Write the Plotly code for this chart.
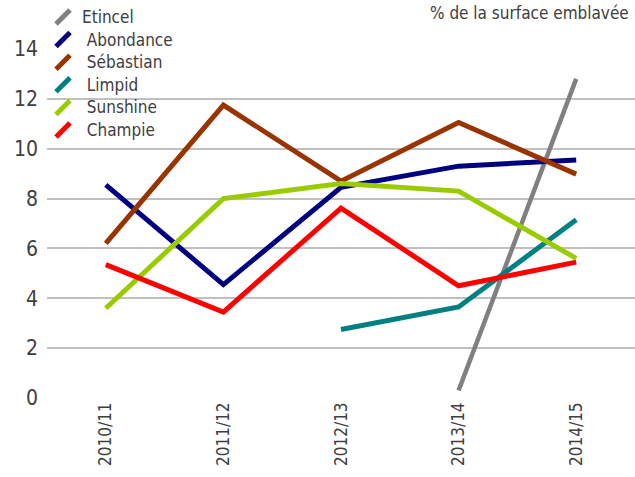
import plotly.graph_objects as go

categories = ["2010/11", "2011/12", "2012/13", "2013/14", "2014/15"]
etincel = [None, None, None, 0.3, 12.8]
abondance = [8.55, 4.55, 8.45, 9.3, 9.55]
sebastian = [6.2, 11.75, 8.7, 11.05, 8.98]
limpid = [None, None, 2.75, 3.65, 7.15]
sunshine = [3.6, 8.0, 8.6, 8.3, 5.6]
champie = [5.35, 3.45, 7.62, 4.5, 5.45]

names = ["Etincel", " Abondance", " Sébastian", " Limpid", " Sunshine", " Champie"]
colors = ["#808080", "#000080", "#993300", "#008080", "#99CC00", "#FF0000"]
series = [etincel, abondance, sebastian, limpid, sunshine, champie]
widths = [4.5, 5, 5, 5, 5, 5]
y_ticks = [0, 2, 4, 6, 8, 10, 12, 14]

FONT = "Liberation Sans Narrow, DejaVu Sans Condensed, sans-serif"
TXT = "#404040"

L, T, PW, PH = 47, 49, 588, 349

fig = go.Figure()
for nm, col, s, w in zip(names, colors, series, widths):
    fig.add_trace(go.Scatter(x=categories, y=s, mode="lines", name=nm.strip(),
                             line=dict(color=col, width=w), connectgaps=False,
                             showlegend=False, cliponaxis=False))

W, H = 635, 477
shapes = []
annotations = []
for i, (nm, col) in enumerate(zip(names, colors)):
    cy = 17 + i * 22.6
    x0, y0, x1, y1 = 56, cy + 7, 70, cy - 7
    shapes.append(dict(type="line", xref="paper", yref="paper",
                       x0=(x0 - L) / PW, x1=(x1 - L) / PW,
                       y0=(T + PH - y0) / PH, y1=(T + PH - y1) / PH,
                       line=dict(color=col, width=5)))
    annotations.append(dict(text=nm, xref="paper", yref="paper",
                            x=(80 - L) / PW, y=(T + PH - cy) / PH,
                            xanchor="left", yanchor="middle", showarrow=False,
                            font=dict(family=FONT, size=17, color=TXT)))

annotations.append(dict(text="% de la surface emblavée", xref="paper", yref="paper",
                        x=(631 - L) / PW, y=(T + PH - 13) / PH,
                        xanchor="right", yanchor="middle", showarrow=False,
                        font=dict(family=FONT, size=17, color=TXT)))

fig.update_layout(
    width=W, height=H,
    margin=dict(l=L, r=W - L - PW, t=T, b=H - T - PH, autoexpand=False),
    paper_bgcolor="white", plot_bgcolor="white",
    font=dict(family=FONT, color=TXT),
    shapes=shapes, annotations=annotations,
    xaxis=dict(type="category", categoryorder="array", categoryarray=categories,
               range=[-0.5, 4.5], showgrid=False, zeroline=False, showline=False,
               tickangle=-90, tickfont=dict(size=17, color=TXT), ticks="",
               automargin=False),
    yaxis=dict(range=[0, 14], tickvals=y_ticks, showgrid=True, gridcolor="#C0C0C0",
               gridwidth=2, zeroline=False, showline=False, automargin=False,
               tickfont=dict(size=21, color=TXT), ticks="", ticklabelstandoff=8),
)

fig.write_html("out.html", config={"displayModeBar": False},
               post_script="document.body.style.margin='0';")
